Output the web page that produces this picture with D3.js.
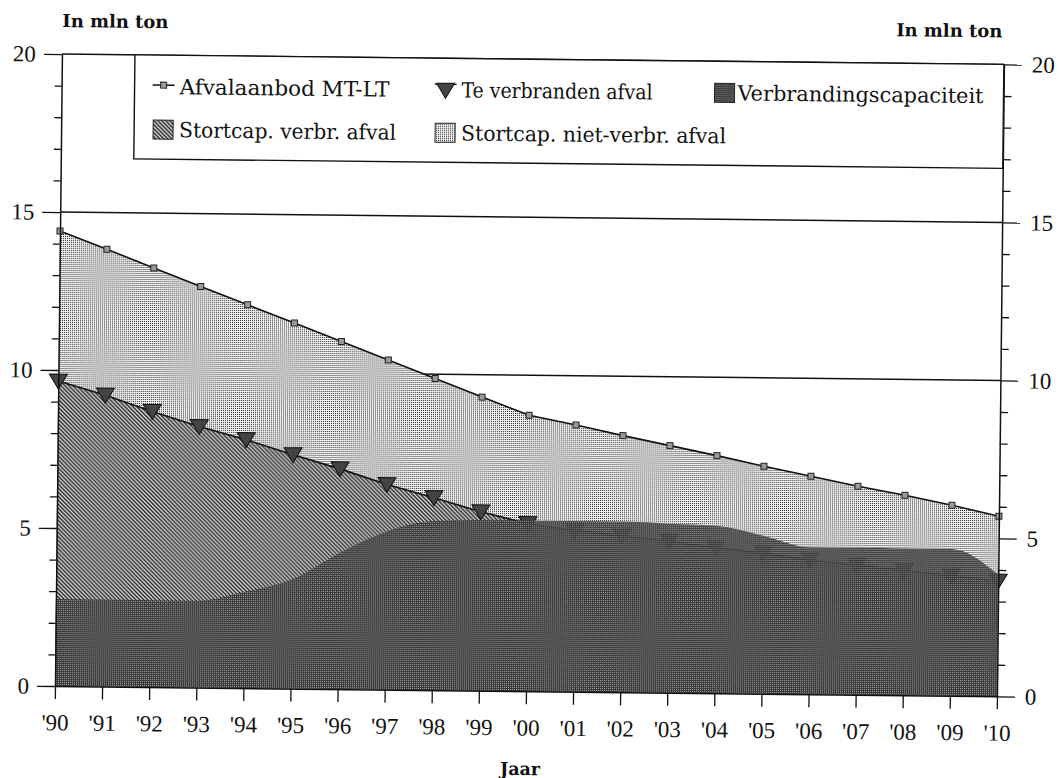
<!DOCTYPE html>
<html>
<head>
<meta charset="utf-8">
<script src="https://cdn.jsdelivr.net/npm/d3@7"></script>
<style>
  body { margin: 0; background: #fff; }
  svg { display: block; }
  .serif { font-family: "DejaVu Serif", "Liberation Serif", serif; }
  .num { font-family: "Liberation Serif", "DejaVu Serif", serif; }
</style>
</head>
<body>
<div id="chart"></div>
<script>
// values
const years = ["'90","'91","'92","'93","'94","'95","'96","'97","'98","'99","'00",
               "'01","'02","'03","'04","'05","'06","'07","'08","'09","'10"];
const afvalaanbod  = [14.4, 13.84, 13.26, 12.69, 12.13, 11.57, 11.0, 10.43, 9.86, 9.29, 8.73,
                      8.44, 8.12, 7.82, 7.52, 7.2, 6.9, 6.6, 6.33, 6.03, 5.7];
const teVerbranden = [9.65, 9.22, 8.72, 8.26, 7.86, 7.4, 6.97, 6.49, 6.09, 5.66, 5.3,
                      5.1, 4.95, 4.8, 4.6, 4.45, 4.25, 4.1, 3.95, 3.8, 3.65];
const capaciteit   = [2.75, 2.75, 2.75, 2.75, 3.05, 3.45, 4.3, 5.0, 5.35, 5.4, 5.4,
                      5.4, 5.4, 5.35, 5.3, 5.0, 4.65, 4.65, 4.65, 4.65, 3.85];
const yTicks = [0, 5, 10, 15, 20];
const gridTicks = [10, 15, 20];
const legendNames = ["Afvalaanbod MT-LT", "Te verbranden afval", "Verbrandingscapaciteit",
                     "Stortcap. verbr. afval", "Stortcap. niet-verbr. afval"];

function render(){
  let width = 1059, height = 778,
      left = 55, right = 997, bottom = 686, top = 54;

  let data = years.map((yr, i) => ({ yr, a: afvalaanbod[i], t: teVerbranden[i], c: capaciteit[i] }));

  let svg = d3.select("#chart").append("svg").attr("width", width).attr("height", height);
  let defs = svg.append("defs");

  function pattern(id, size, bg){
    let p = defs.append("pattern").attr("id", id).attr("patternUnits", "userSpaceOnUse")
      .attr("width", size).attr("height", size);
    p.append("rect").attr("width", size).attr("height", size).attr("fill", bg);
    return p;
  }
  pattern("light", 2, "#f4f4f4").append("rect").attr("width", 1).attr("height", 1).attr("fill", "#222");
  pattern("hatch", 4, "#ddd").append("path")
    .attr("d", "M-1,-1L5,5M-1,3L1,5M3,-1L5,1").attr("stroke", "#222").attr("stroke-width", 1.4);
  pattern("dark", 2, "#2e2e2e").append("rect").attr("width", 1).attr("height", 1).attr("fill", "#aaa");

  // the scan is turned a little clockwise
  let g = svg.append("g").attr("transform", `rotate(0.63,${left},${bottom})`);

  let x = d3.scalePoint().domain(years).range([left, right]);
  let y = d3.scaleLinear().domain([0, 20]).range([bottom, top]);

  // grid lines (under the areas)
  g.selectAll(".grid").data(gridTicks).enter().append("line")
    .attr("x1", left).attr("x2", right)
    .attr("y1", d => y(d)).attr("y2", d => y(d))
    .attr("stroke", "#111").attr("stroke-width", 1.5);

  let area = (acc, curve) => d3.area().x(d => x(d.yr)).y0(y(0)).y1(d => y(acc(d))).curve(curve || d3.curveLinear);
  let line = acc => d3.line().x(d => x(d.yr)).y(d => y(acc(d)));
  let tri = "M-9,-7L9,-7L0,8Z";

  g.append("path").attr("d", area(d => d.a)(data)).attr("fill", "url(#light)");
  g.append("path").attr("d", area(d => d.t)(data)).attr("fill", "url(#hatch)");

  // te verbranden afval sits under the capacity area, which lets it show through a little
  g.append("path").attr("d", line(d => d.t)(data)).attr("fill", "none").attr("stroke", "#111").attr("stroke-width", 1.6);
  g.selectAll(".tri").data(data).enter().append("path")
    .attr("d", tri).attr("transform", d => `translate(${x(d.yr)},${y(d.t)})`)
    .attr("fill", "#444").attr("stroke", "#111").attr("stroke-width", 1);

  g.append("path").attr("d", area(d => d.c, d3.curveMonotoneX)(data))
    .attr("fill", "url(#dark)").attr("fill-opacity", 0.9);

  g.append("path").attr("d", line(d => d.a)(data)).attr("fill", "none").attr("stroke", "#111").attr("stroke-width", 1.6);
  g.selectAll(".sq").data(data).enter().append("rect")
    .attr("x", d => x(d.yr) - 3).attr("y", d => y(d.a) - 3).attr("width", 6).attr("height", 6)
    .attr("fill", "#999").attr("stroke", "#222").attr("stroke-width", 1);

  // axes
  let minor = y.ticks(20).filter(v => v % 5 !== 0);
  let styleAxis = sel => {
    sel.attr("font-family", null).attr("font-size", null);
    sel.selectAll("path.domain").attr("stroke", "#111").attr("stroke-width", 1.5);
    sel.selectAll(".tick line").attr("stroke", "#111").attr("stroke-width", 1.3);
    sel.selectAll("text").attr("class", "num").style("font-size", "23px").attr("fill", "#111");
  };
  g.append("g").attr("transform", `translate(${left},0)`)
    .call(d3.axisLeft(y).tickValues(yTicks).tickSize(18).tickSizeOuter(0).tickPadding(8)).call(styleAxis);
  g.append("g").attr("transform", `translate(${left},0)`)
    .call(d3.axisLeft(y).tickValues(minor).tickSize(7).tickFormat("")).call(styleAxis)
    .select(".domain").remove();
  g.append("g").attr("transform", `translate(${right},0)`)
    .call(d3.axisRight(y).tickValues(yTicks).tickSize(18).tickSizeOuter(0).tickPadding(10)).call(styleAxis);
  g.append("g").attr("transform", `translate(${right},0)`)
    .call(d3.axisRight(y).tickValues(minor).tickSize(8).tickFormat("")).call(styleAxis)
    .select(".domain").remove();
  g.append("g").attr("transform", `translate(0,${bottom})`)
    .call(d3.axisBottom(x).tickSize(13).tickSizeOuter(0).tickPadding(15)).call(styleAxis);

  // axis titles
  let bold = (tx, ty, s, w) => g.append("text").attr("class", "serif").attr("x", tx).attr("y", ty).text(s)
    .style("font-weight", "bold").style("font-size", "18px")
    .attr("textLength", w).attr("lengthAdjust", "spacingAndGlyphs")
    .attr("text-anchor", "middle").attr("fill", "#111");
  bold(108, 27, "In mln ton", 106);
  bold(942, 27, "In mln ton", 106);
  bold(521, 770, "Jaar", 40);

  // legend
  let lg = g.append("g");
  lg.append("rect").attr("x", 128).attr("y", top).attr("width", right - 128).attr("height", 158 - top)
    .attr("fill", "#fff").attr("stroke", "#111").attr("stroke-width", 1.4);
  let row1 = 93, row2 = 136;
  let label = (tx, ty, s, w) => lg.append("text").attr("class", "serif").attr("x", tx).attr("y", ty).text(s)
    .style("font-size", "21px").attr("textLength", w).attr("lengthAdjust", "spacingAndGlyphs")
    .attr("fill", "#111");
  let swatch = (sx, sy, fill) => lg.append("rect").attr("x", sx).attr("y", sy).attr("width", 20).attr("height", 19)
    .attr("fill", fill).attr("stroke", "#222").attr("stroke-width", 1);

  lg.append("line").attr("x1", 146).attr("x2", 168).attr("y1", row1 - 9).attr("y2", row1 - 9)
    .attr("stroke", "#111").attr("stroke-width", 1.4);
  lg.append("rect").attr("x", 154).attr("y", row1 - 12).attr("width", 6).attr("height", 6)
    .attr("fill", "#999").attr("stroke", "#222");
  label(173, row1, legendNames[0], 210);
  lg.append("line").attr("x1", 428).attr("x2", 450).attr("y1", row1 - 13).attr("y2", row1 - 13)
    .attr("stroke", "#111").attr("stroke-width", 1.4);
  lg.append("path").attr("d", tri).attr("transform", `translate(439,${row1 - 7})`)
    .attr("fill", "#444").attr("stroke", "#111");
  label(455, row1, legendNames[1], 191);
  swatch(708, row1 - 17, "url(#dark)");
  label(731, row1, legendNames[2], 246);

  swatch(147, row2 - 17, "url(#hatch)");
  label(173, row2, legendNames[3], 217);
  swatch(429, row2 - 17, "url(#light)");
  label(455, row2, legendNames[4], 265);
}

render();
</script>
</body>
</html>
